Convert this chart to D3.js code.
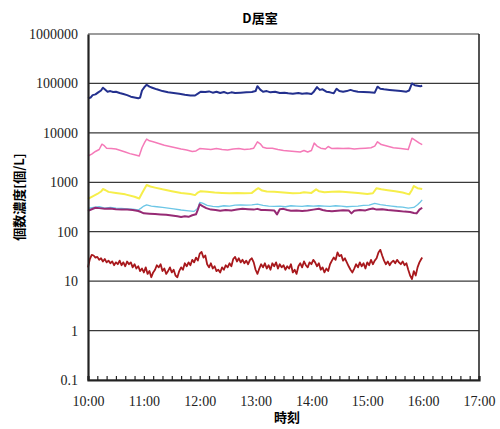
<!DOCTYPE html>
<html>
<head>
<meta charset="utf-8">
<script src="https://cdn.jsdelivr.net/npm/d3@7"></script>
<style>
  body { margin: 0; background: #fff; }
</style>
</head>
<body>
<div id="chart"></div>
<script>
// minutes after 10:00, value [個/L]
const navy = [[0,50000],[3,52000],[5,58000],[8,60000],[11,66000],[14,72000],[16,82000],[18,76000],[21,68000],[24,70000],[27,67000],[30,68000],[34,64000],[38,61000],[42,58000],[46,54000],[50,52000],[54,50000],[56,52000],[58,72000],[61,86000],[63,94000],[66,86000],[69,82000],[74,76000],[80,70000],[86,66000],[92,64000],[98,62000],[104,59000],[110,57000],[115,57000],[118,62000],[121,68000],[126,67000],[130,69000],[134,65000],[138,68000],[142,64000],[146,67000],[150,63000],[154,66000],[158,64000],[164,65000],[170,66000],[176,67000],[180,70000],[182,88000],[185,75000],[188,68000],[192,70000],[196,66000],[201,68000],[206,64000],[211,65000],[215,63000],[220,62000],[226,64000],[230,62000],[235,63000],[240,61000],[242,66000],[246,84000],[249,74000],[252,76000],[256,68000],[260,66000],[264,63000],[267,78000],[270,70000],[274,68000],[278,70000],[282,74000],[286,70000],[290,68000],[296,67000],[302,66000],[308,65000],[311,86000],[314,78000],[318,76000],[324,74000],[330,72000],[336,70000],[342,68000],[345,72000],[348,100000],[351,92000],[354,90000],[357,88000],[359,90000]];

const pink = [[0,3400],[4,3700],[8,4200],[12,4600],[15,5900],[17,5600],[20,4900],[25,4800],[30,4700],[35,4400],[40,4100],[45,3800],[50,3600],[55,3400],[58,5000],[61,6500],[63,7500],[66,6900],[70,6600],[76,6100],[82,5600],[88,5300],[94,5000],[100,4700],[106,4500],[112,4200],[116,4300],[120,4800],[126,4700],[132,4600],[138,4800],[144,4600],[150,4500],[156,4700],[162,4800],[168,4600],[174,4700],[178,4900],[182,6600],[185,6000],[188,5100],[192,4900],[198,4900],[204,4600],[210,4400],[216,4300],[222,4200],[228,4100],[232,4400],[236,4100],[240,4400],[243,6200],[246,5400],[250,4900],[255,4700],[258,5300],[262,4800],[268,4900],[274,4800],[280,4900],[286,4700],[292,4800],[298,4900],[304,5000],[308,5400],[311,6600],[315,5800],[320,5500],[328,5000],[336,4800],[344,4600],[348,7800],[352,7000],[356,6200],[359,5800]];

const yellow = [[0,460],[5,520],[10,580],[14,650],[16,730],[19,690],[22,640],[30,610],[40,570],[50,510],[55,470],[58,600],[61,760],[63,880],[67,820],[72,780],[80,720],[90,660],[100,610],[110,580],[115,550],[118,620],[121,660],[128,640],[136,620],[144,610],[152,600],[160,610],[168,600],[176,610],[180,700],[183,760],[187,680],[192,650],[200,640],[210,620],[220,600],[228,610],[232,630],[240,610],[245,720],[248,660],[254,630],[262,640],[270,650],[280,630],[290,610],[300,580],[306,600],[310,760],[315,720],[322,690],[330,660],[338,620],[345,570],[348,700],[350,840],[354,760],[359,730]];

const cyan = [[0,295],[6,310],[12,320],[18,300],[24,310],[30,300],[36,295],[42,290],[48,285],[54,275],[57,300],[60,330],[63,350],[68,330],[74,320],[80,310],[86,300],[92,290],[100,275],[108,265],[114,258],[118,300],[120,390],[123,380],[128,340],[134,325],[140,320],[146,335],[152,330],[158,345],[164,350],[170,345],[176,350],[182,360],[188,340],[194,330],[200,325],[206,330],[212,320],[218,335],[224,330],[230,325],[236,335],[242,330],[248,335],[254,330],[260,325],[266,335],[272,330],[278,320],[284,325],[290,330],[296,340],[302,345],[308,375],[314,355],[320,340],[326,330],[332,320],[338,315],[344,300],[350,310],[354,350],[357,400],[359,440]];

const purple = [[0,263],[4,285],[8,306],[12,300],[18,290],[24,295],[30,285],[36,283],[42,280],[48,275],[54,263],[57,250],[60,235],[66,232],[72,228],[78,224],[84,220],[90,212],[96,205],[100,198],[104,205],[108,200],[112,215],[116,225],[118,280],[120,360],[123,330],[127,300],[132,280],[137,275],[142,265],[148,275],[154,270],[160,280],[166,290],[172,285],[178,280],[182,290],[186,275],[190,275],[196,272],[200,270],[203,224],[206,285],[210,290],[214,275],[218,265],[224,270],[230,262],[236,268],[242,280],[248,292],[252,275],[256,265],[262,258],[268,265],[274,272],[280,270],[283,235],[286,265],[292,275],[298,270],[302,285],[306,295],[310,280],[316,285],[322,275],[328,268],[334,262],[340,255],[346,250],[350,240],[353,235],[356,280],[359,306]];

const red = [[0,19],[2,28],[4,34],[6,33],[8,30],[10,31],[12,27],[14,29],[16,25],[18,28],[20,24],[22,26],[24,23],[26,25],[28,21],[30,24],[32,22],[34,26],[36,21],[38,24],[40,20],[42,25],[44,22],[46,24],[48,19],[50,22],[52,18],[54,20],[56,16],[58,18],[60,15],[62,19],[64,14],[66,16],[68,12],[70,15],[72,17],[74,21],[76,19],[78,22],[80,16],[82,18],[84,14],[86,16],[88,19],[90,15],[92,17],[94,13],[96,12],[98,16],[100,19],[102,17],[104,23],[106,20],[108,24],[110,21],[112,27],[114,24],[116,30],[118,26],[120,36],[122,39],[124,30],[126,33],[128,22],[130,19],[132,23],[134,18],[136,20],[138,16],[140,17],[142,15],[144,19],[146,17],[148,21],[150,19],[152,23],[154,20],[156,28],[158,31],[160,25],[162,29],[164,24],[166,27],[168,23],[170,26],[172,22],[174,27],[176,29],[178,24],[180,17],[182,14],[184,18],[186,22],[188,19],[190,23],[192,18],[194,21],[196,17],[198,23],[200,20],[202,24],[204,18],[206,22],[208,19],[210,21],[212,17],[214,20],[216,18],[218,22],[220,15],[222,17],[224,14],[226,20],[228,23],[230,19],[232,25],[234,21],[236,19],[238,24],[240,22],[242,27],[244,24],[246,20],[248,23],[250,17],[252,19],[254,15],[256,18],[258,16],[260,22],[262,26],[264,30],[266,27],[268,38],[270,32],[272,34],[274,26],[276,29],[278,24],[280,20],[282,17],[284,15],[286,18],[288,22],[290,19],[292,24],[294,20],[296,23],[298,18],[300,24],[302,21],[304,27],[306,22],[308,26],[310,29],[312,38],[314,43],[316,33],[318,26],[320,22],[322,25],[324,21],[326,24],[328,26],[330,23],[332,27],[334,24],[336,22],[338,25],[340,21],[342,23],[344,17],[346,13],[348,11],[350,16],[352,13],[354,19],[356,24],[358,28],[359,30]];

const yTicks = [0.1, 1, 10, 100, 1000, 10000, 100000, 1000000];
const yTickLabels = ["0.1", "1", "10", "100", "1000", "10000", "100000", "1000000"];
const xTicks = [0, 60, 120, 180, 240, 300, 360, 420];
const xTickLabels = ["10:00", "11:00", "12:00", "13:00", "14:00", "15:00", "16:00", "17:00"];

const margin = { top: 34, right: 21, bottom: 49, left: 88 };
const width = 500 - margin.left - margin.right;
const height = 429 - margin.top - margin.bottom;

const svg = d3.select("#chart")
    .append("svg")
    .attr("width", 500)
    .attr("height", 429)
    .append("g")
    .attr("transform", `translate(${margin.left},${margin.top})`);

const x = d3.scaleLinear().domain([0, 420]).range([0, width]);
const y = d3.scaleLog().domain([0.1, 1000000]).range([height, 0]);

// gridlines
svg.selectAll(".grid")
    .data(yTicks)
    .enter()
    .append("line")
    .attr("x1", 0)
    .attr("x2", width)
    .attr("y1", d => y(d))
    .attr("y2", d => y(d))
    .attr("stroke", "#3a3a3a")
    .attr("stroke-width", 1.2);

// right border
svg.append("line")
    .attr("x1", width).attr("x2", width)
    .attr("y1", 0).attr("y2", height)
    .attr("stroke", "#2a2a2a")
    .attr("stroke-width", 1.6);

// lines
const line = d3.line()
    .x(d => x(d[0]))
    .y(d => y(d[1]));

const series = [
    { data: navy, color: "#23308e", w: 2 },
    { data: pink, color: "#f57ab8", w: 1.5 },
    { data: yellow, color: "#f6ee4a", w: 2 },
    { data: cyan, color: "#6cc6e6", w: 1.3 },
    { data: purple, color: "#962a74", w: 2 },
    { data: red, color: "#a8181c", w: 1.8 }
];

series.forEach(s => {
    svg.append("path")
        .datum(s.data)
        .attr("d", line)
        .attr("fill", "none")
        .attr("stroke", s.color)
        .attr("stroke-width", s.w)
        .attr("stroke-linejoin", "round");
});

// y axis
const yAxis = svg.append("g")
    .call(d3.axisLeft(y)
        .tickValues(yTicks)
        .tickSize(0)
        .tickPadding(10)
        .tickFormat((d, i) => yTickLabels[i]));
yAxis.select(".domain").attr("stroke", "#222").attr("stroke-width", 2.2);

// x axis minor ticks (inward) + labels
const xMinor = svg.append("g")
    .attr("transform", `translate(0,${height})`)
    .call(d3.axisBottom(x)
        .tickValues(d3.range(0, 421, 10))
        .tickSize(-4)
        .tickFormat(""));
xMinor.select(".domain").attr("stroke", "#222").attr("stroke-width", 2.2);
xMinor.selectAll(".tick line").attr("stroke", "#222").attr("stroke-width", 1.2);

const xAxis = svg.append("g")
    .attr("transform", `translate(0,${height})`)
    .call(d3.axisBottom(x)
        .tickValues(xTicks)
        .tickSize(0)
        .tickPadding(16)
        .tickFormat((d, i) => xTickLabels[i]));
xAxis.select(".domain").remove();

// serif tick labels
svg.selectAll(".tick text")
    .attr("font-family", "'Liberation Serif', 'DejaVu Serif', serif")
    .attr("font-size", 14)
    .style("font-family", "'Liberation Serif', 'DejaVu Serif', serif")
    .style("font-size", "14px")
    .attr("fill", "#222");

// Labels
svg.append("text")
    .attr("text-anchor", "middle")
    .attr("x", 172)
    .attr("y", -11)
    .style("font-family", "'Noto Sans CJK JP', sans-serif")
    .style("font-weight", "bold")
    .style("font-size", "13px")
    .text("D居室");

svg.append("text")
    .attr("text-anchor", "middle")
    .attr("x", 199)
    .attr("y", height + 42)
    .style("font-family", "'Noto Sans CJK JP', sans-serif")
    .style("font-weight", "bold")
    .style("font-size", "13px")
    .text("時刻");

svg.append("text")
    .attr("text-anchor", "middle")
    .attr("transform", "rotate(-90)")
    .attr("x", -(197 - margin.top))
    .attr("y", -margin.left + 24)
    .style("font-family", "'Noto Sans CJK JP', sans-serif")
    .style("font-weight", "bold")
    .style("font-size", "13px")
    .text("個数濃度[個/L]");
</script>
</body>
</html>
